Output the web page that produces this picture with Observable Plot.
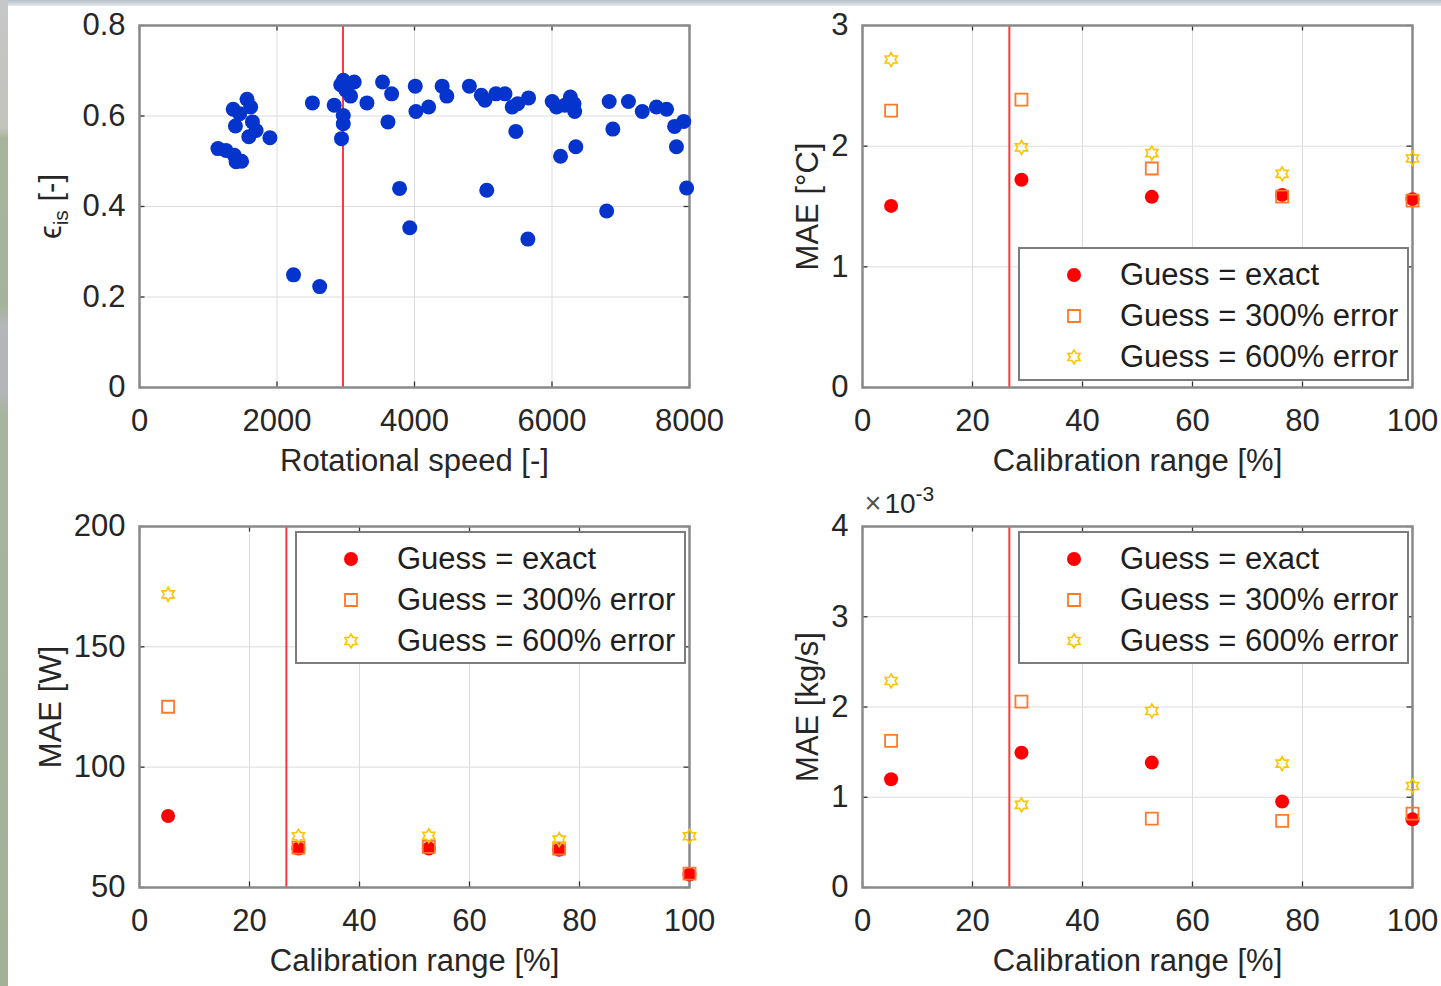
<!DOCTYPE html>
<html><head><meta charset="utf-8">
<script src="https://cdn.jsdelivr.net/npm/d3@7"></script>
<script src="https://cdn.jsdelivr.net/npm/@observablehq/plot@0.6"></script>
<style>
html,body{margin:0;padding:0;background:#fff;}
#page{position:relative;width:1441px;height:986px;overflow:hidden;background:#fff;font-family:"Liberation Sans",Arial,sans-serif;color:#262626;}
.cell{position:absolute;}
.legend{position:absolute;background:#fff;border:2.5px solid #7c7c7c;box-sizing:border-box;}
.legend .row{position:absolute;left:100px;height:36px;line-height:36px;font-size:31px;white-space:nowrap;color:#1e1e1e;}
.legend svg{position:absolute;overflow:visible;}
#lstrip{position:absolute;left:0;top:0;width:8px;height:986px;background:linear-gradient(to bottom,#c6c8c8 0%,#c2c3bb 13%,#a8b49c 14%,#a6b29b 31%,#b5b6ba 33%,#b2b4b6 40%,#a9b49e 42%,#a4b098 100%);}
#tstrip{position:absolute;left:0;top:0;width:1441px;height:6px;background:linear-gradient(to bottom,#b4bcc4,#e4e8ec);}
</style></head>
<body>
<div id="page"></div>
<script>
// ---------- data ----------
const speed = [1141,1258,1379,1405,1485,1363,1564,1617,1458,1395,1643,1696,1590,1897,2515,2240,2621,2832,2964,2927,3001,3123,3070,2964,2964,2938,3308,3535,3667,3614,3783,3931,4011,4021,4206,4402,4470,4798,4972,5025,5184,5316,5421,5501,5474,5659,5051,5649,6003,6066,6188,6267,6320,6330,6124,6346,6795,6832,6885,7112,7313,7519,7667,7783,7916,7810,7958];
const efficiency = [0.528,0.524,0.513,0.499,0.500,0.615,0.637,0.620,0.605,0.578,0.587,0.568,0.554,0.552,0.629,0.249,0.223,0.624,0.679,0.669,0.657,0.675,0.644,0.601,0.583,0.550,0.629,0.675,0.649,0.587,0.440,0.353,0.666,0.610,0.620,0.666,0.644,0.666,0.646,0.635,0.649,0.649,0.620,0.627,0.566,0.640,0.436,0.328,0.632,0.620,0.624,0.642,0.627,0.610,0.511,0.532,0.390,0.632,0.571,0.632,0.610,0.620,0.615,0.577,0.588,0.532,0.441];

const calibration = [5.2, 28.9, 52.6, 76.3, 100];
const seriesNames = ["Guess = exact", "Guess = 300% error", "Guess = 600% error"];

const tempExact = [1.505, 1.722, 1.580, 1.596, 1.561];
const temp300   = [2.295, 2.385, 1.815, 1.582, 1.548];
const temp600   = [2.718, 1.990, 1.942, 1.770, 1.898];

const powerExact = [79.7, 66.2, 66.2, 65.7, 55.4];
const power300   = [125.1, 66.6, 66.9, 66.2, 55.8];
const power600   = [171.8, 71.3, 71.5, 69.9, 71.3];

const flowExact = [0.001199, 0.001494, 0.001384, 0.000952, 0.000756];
const flow300   = [0.001624, 0.002059, 0.000764, 0.000738, 0.000819];
const flow600   = [0.002288, 0.000915, 0.001956, 0.001373, 0.001125];

const speedTicks = [0, 2000, 4000, 6000, 8000];
const effTicks = [0, 0.2, 0.4, 0.6, 0.8];
const calTicks = [0, 20, 40, 60, 80, 100];
const tempTicks = [0, 1, 2, 3];
const powerTicks = [50, 100, 150, 200];
const flowTicks = [0, 0.001, 0.002, 0.003, 0.004];

const speedThreshold = 2960;
const calThreshold = 26.7;

// ---------- symbols ----------
const hexagram = {draw(ctx, size){const R=Math.sqrt(size/Math.PI), r=R/Math.sqrt(3);
  for(let k=0;k<12;k++){const a=-Math.PI/2+k*Math.PI/6, rr=k%2?r:R, px=rr*Math.cos(a), py=rr*Math.sin(a); k?ctx.lineTo(px,py):ctx.moveTo(px,py);} ctx.closePath();}};
const square = {draw(ctx, size){const h=Math.sqrt(size/Math.PI); ctx.rect(-h,-h,2*h,2*h);}};
const circle = {draw(ctx, size){const r=Math.sqrt(size/Math.PI); ctx.moveTo(r,0); ctx.arc(0,0,r,0,2*Math.PI);}};

const RED="#ff0000", ORANGE="#ff7a26", GOLD="#ffc400", BLUE="#0434cc";
const FONT='"Liberation Sans", Arial, sans-serif';
const FS = 31;

function seriesMarks(xs, a, b, c){
  const d = (ys)=>xs.map((x,i)=>({x, y: ys[i]}));
  return [
    Plot.dot(d(a), {x:"x", y:"y", r:7, fill:RED, stroke:"none"}),
    Plot.dot(d(b), {x:"x", y:"y", r:6, symbol:square, fill:"none", stroke:ORANGE, strokeWidth:1.8}),
    Plot.dot(d(c), {x:"x", y:"y", r:7, symbol:hexagram, fill:"none", stroke:GOLD, strokeWidth:1.6})
  ];
}

function panel(o){
  const [x0,x1]=o.xDomain, [y0,y1]=o.yDomain;
  const ih = o.height - o.mt - o.mb, iw = o.width - o.ml - o.mr;
  const fy = 5.5/ih*(y1-y0), fx = 5.5/iw*(x1-x0);
  const tk = {stroke:"#333", strokeWidth:1.3};
  return Plot.plot({
    width:o.width, height:o.height,
    marginLeft:o.ml, marginRight:o.mr, marginTop:o.mt, marginBottom:o.mb,
    style:{fontFamily:FONT, fontSize:FS+"px", color:"#262626", background:"transparent", overflow:"visible"},
    x:{domain:o.xDomain}, y:{domain:o.yDomain},
    marks:[
      Plot.gridX({ticks:o.xTicks, stroke:"#dcdcdc", strokeOpacity:1, strokeWidth:1}),
      Plot.gridY({ticks:o.yTicks, stroke:"#dcdcdc", strokeOpacity:1, strokeWidth:1}),
      Plot.ruleX([o.threshold], {stroke:"#ff3838", strokeWidth:2}),
      Plot.ruleX(o.xTicks, {x:d=>d, y1:y0, y2:y0+fy, ...tk}),
      Plot.ruleX(o.xTicks, {x:d=>d, y1:y1-fy, y2:y1, ...tk}),
      Plot.ruleY(o.yTicks, {y:d=>d, x1:x0, x2:x0+fx, ...tk}),
      Plot.ruleY(o.yTicks, {y:d=>d, x1:x1-fx, x2:x1, ...tk}),
      Plot.frame({stroke:"#8a8a8a", strokeWidth:2.5}),
      Plot.axisX({ticks:o.xTicks, tickSize:0, tickPadding:21, label:null, fontSize:FS, tickFormat:o.xFmt||(d=>String(d))}),
      Plot.axisY({ticks:o.yTicks, tickSize:0, tickPadding:14, label:null, fontSize:FS, tickFormat:o.yFmt||(d=>String(d))}),
      ...o.marks,
      Plot.text([o.xLabel], {frameAnchor:"bottom", dy:74, textAnchor:"middle", lineAnchor:"middle", fontSize:FS, text:d=>d, fill:"#262626"}),
      Plot.text([o.yLabel], {frameAnchor:"left", dx:o.yDx, rotate:-90, textAnchor:"middle", lineAnchor:"middle", fontSize:FS, text:d=>d, fill:"#262626"}),
      ...(o.extra||[])
    ]
  });
}

function place(svg, left, top){
  const div=document.createElement("div"); div.className="cell"; div.style.left=left+"px"; div.style.top=top+"px";
  div.appendChild(svg); document.getElementById("page").appendChild(div); return svg;
}

function symbolSvg(sym, r, fill, stroke, sw){
  const p = d3.path(); sym.draw(p, r*r*Math.PI);
  return `<path d="${p.toString()}" fill="${fill}" stroke="${stroke}" stroke-width="${sw}"/>`;
}
function legend(left, top, w, h){
  const box=document.createElement("div"); box.className="legend";
  Object.assign(box.style,{left:left+"px",top:top+"px",width:w+"px",height:h+"px"});
  const syms=[symbolSvg(circle,7,RED,"none",0),
              symbolSvg(square,6,"none",ORANGE,1.8),
              symbolSvg(hexagram,7,"none",GOLD,1.6)];
  const rows=[26,67,108];
  seriesNames.forEach((name,i)=>{
    const t=document.createElement("div"); t.className="row"; t.style.top=(rows[i]-18)+"px"; t.textContent=name; box.appendChild(t);
    box.insertAdjacentHTML("beforeend",`<svg width="20" height="20" style="left:${53.5-10}px;top:${rows[i]-10}px"><g transform="translate(10,10)">${syms[i]}</g></svg>`);
  });
  document.getElementById("page").appendChild(box);
}

document.getElementById("page").insertAdjacentHTML("beforeend",'<div id="tstrip"></div><div id="lstrip"></div>');

// ---------- panel 1 ----------
const s1 = place(panel({
  width:720, height:493, ml:139, mr:31, mt:25, mb:106,
  xDomain:[0,8000], yDomain:[0,0.8], xTicks:speedTicks, yTicks:effTicks,
  threshold:speedThreshold, xLabel:"Rotational speed [-]", yLabel:"ϵis [-]", yDx:-88,
  marks:[Plot.dot(speed.map((s,i)=>({s, e:efficiency[i]})), {x:"s", y:"e", r:7.5, fill:BLUE, stroke:"none"})]
}), 0, 0);

// ---------- panel 2 ----------
const s2 = place(panel({
  width:721, height:493, ml:142, mr:29, mt:25, mb:106,
  xDomain:[0,100], yDomain:[0,3], xTicks:calTicks, yTicks:tempTicks,
  threshold:calThreshold, xLabel:"Calibration range [%]", yLabel:"MAE [°C]", yDx:-54,
  marks:seriesMarks(calibration, tempExact, temp300, temp600)
}), 720, 0);

// ---------- panel 3 ----------
const s3 = place(panel({
  width:720, height:493, ml:139, mr:31, mt:33, mb:99,
  xDomain:[0,100], yDomain:[50,200], xTicks:calTicks, yTicks:powerTicks,
  threshold:calThreshold, xLabel:"Calibration range [%]", yLabel:"MAE [W]", yDx:-88,
  marks:seriesMarks(calibration, powerExact, power300, power600)
}), 0, 493);

// ---------- panel 4 ----------
const s4 = place(panel({
  width:721, height:493, ml:142, mr:29, mt:33, mb:99,
  xDomain:[0,100], yDomain:[0,0.004], xTicks:calTicks, yTicks:flowTicks, yFmt:d=>String(Math.round(d*1000)),
  threshold:calThreshold, xLabel:"Calibration range [%]", yLabel:"MAE [kg/s]", yDx:-54,
  marks:seriesMarks(calibration, flowExact, flow300, flow600),
  extra:[Plot.text(["×10"], {frameAnchor:"top-left", dx:2, dy:-22, textAnchor:"start", lineAnchor:"middle", fontSize:28, text:d=>d, fill:"#262626"})]
}), 720, 493);

// rich text: subscript / superscript
d3.select(s1).selectAll("text").filter(function(){return this.textContent==="ϵis [-]";}).each(function(){
  const t=d3.select(this); const tn=t.select("tspan").empty()?t:t.select("tspan");
  tn.text(null);
  tn.append("tspan").text("ϵ");
  tn.append("tspan").attr("dy","7").attr("font-size","21").text("is");
  tn.append("tspan").attr("dy","-7").text(" [-]");
});
d3.select(s4).selectAll("text").filter(function(){return this.textContent==="×10";}).each(function(){
  const t=d3.select(this); const tn=t.select("tspan").empty()?t:t.select("tspan");
  tn.text(null);
  tn.append("tspan").attr("fill","#555").attr("font-size","29").text("×");
  tn.append("tspan").attr("dx","3").text("10");
  tn.append("tspan").attr("dy","-12").attr("font-size","21").text("-3");
});

// ---------- legends ----------
legend(1018, 247, 391, 134);
legend(295, 531, 391, 133);
legend(1018, 531, 391, 133);
</script>
</body></html>
